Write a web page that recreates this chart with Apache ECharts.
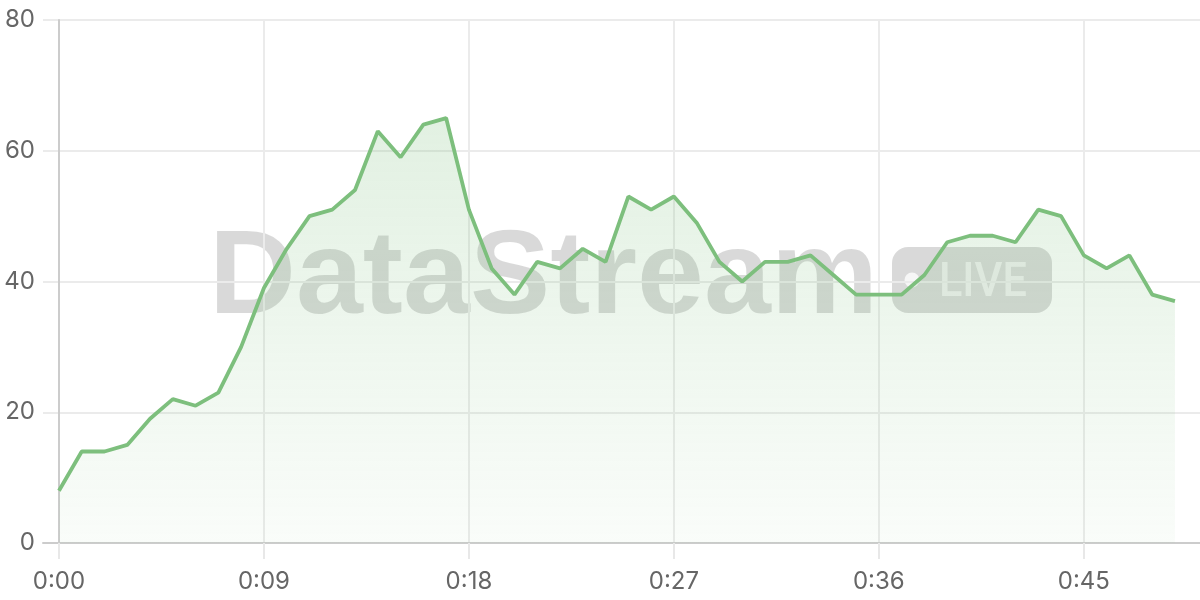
<!DOCTYPE html>
<html>
<head>
<meta charset="utf-8">
<script src="https://cdn.jsdelivr.net/npm/echarts@6/dist/echarts.min.js"></script>
<style>
html,body{margin:0;padding:0;background:#fff;}
#chart{width:1200px;height:600px;}
</style>
</head>
<body>
<div id="chart"></div>
<script>
const seconds = [0,1,2,3,4,5,6,7,8,9,10,11,12,13,14,15,16,17,18,19,20,21,22,23,24,25,26,27,28,29,30,31,32,33,34,35,36,37,38,39,40,41,42,43,44,45,46,47,48,49];
const values = [8,14,14,15,19,22,21,23,30,39,45,50,51,54,63,59,64,65,51,42,38,43,42,45,43,53,51,53,49,43,40,43,43,44,41,38,38,38,41,46,47,47,46,51,50,44,42,44,38,37];
const xTicks = [0,9,18,27,36,45];
const yTicks = [0,20,40,60,80];

function fmt(s){ const m = Math.floor(s/60); const r = s%60; return m + ':' + (r<10?'0':'') + r; }

const chart = echarts.init(document.getElementById('chart'));
const font = 'Inter, "Noto Sans", sans-serif';
chart.setOption({
  animation:false,
  grid:{left:43,right:0,top:20,bottom:57,containLabel:false},
  graphic:[
    {type:'text', z:-10, x:209, y:280, scaleX:1.02, style:{x:0, y:0, text:'DataStream', verticalAlign:'middle', align:'left', font:'bold 118px "Liberation Sans", Arial, sans-serif', fill:'rgba(0,0,0,0.15)'}},
    {type:'rect', z:-10, shape:{x:892,y:247,width:160,height:66,r:16}, style:{fill:'rgba(0,0,0,0.15)'}},
    {type:'circle', z:-9, shape:{cx:912,cy:280,r:7.5}, style:{fill:'rgba(255,255,255,0.75)'}},
    {type:'text', z:-9, x:939, y:284, scaleX:0.9, style:{x:0, y:0, text:'LIVE', verticalAlign:'middle', align:'left', font:'500 48px Roboto, "Liberation Sans", sans-serif', fill:'rgba(255,255,255,0.6)'}}
  ],
  xAxis:{
    type:'value', min:-0.7, max:50.1,
    axisLine:{show:true,onZero:false,lineStyle:{color:'#cccccc',width:2}},
    axisTick:{show:true,length:16,customValues:xTicks,lineStyle:{color:'#e8e8e8',width:2}},
    splitLine:{show:true,lineStyle:{color:'#ebebeb',width:2}},
    axisLabel:{customValues:xTicks,formatter:v=>fmt(v),color:'#666',fontSize:24,fontFamily:font,margin:27}
  },
  yAxis:{
    type:'value', min:0, max:80, interval:20,
    axisLine:{show:true,onZero:true,lineStyle:{color:'#cccccc',width:2}},
    axisTick:{show:false},
    splitLine:{show:true,lineStyle:{color:'#ebebeb',width:2}},
    axisLabel:{color:'#666',fontSize:24,fontFamily:font,margin:8}
  },
  series:[{
    type:'line',
    data: seconds.map((s,i)=>[s, values[i]]),
    showSymbol:false,
    lineStyle:{color:'#7dbf7d',width:3.8},
    itemStyle:{color:'#7dbf7d'},
    areaStyle:{color:new echarts.graphic.LinearGradient(0,0,0,1,[{offset:0,color:'rgba(125,191,125,0.32)'},{offset:1,color:'rgba(125,191,125,0.06)'}])},
    z:5
  }]
});
</script>
</body>
</html>
